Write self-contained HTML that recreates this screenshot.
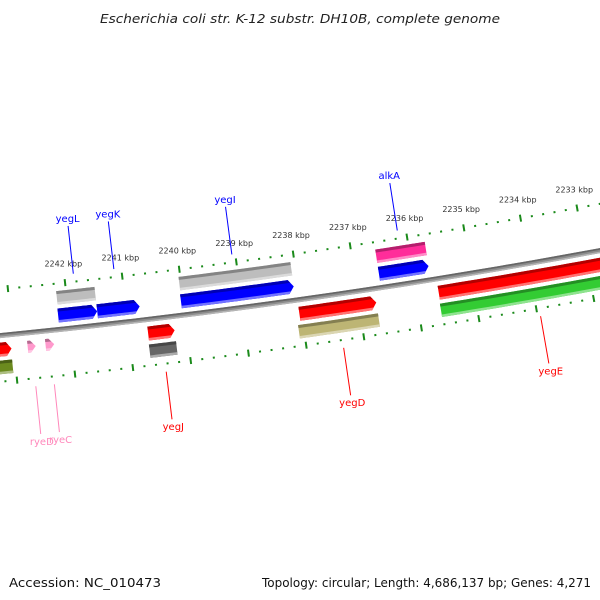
<!DOCTYPE html>
<html><head><meta charset="utf-8"><style>
html,body{margin:0;padding:0;background:#fff}
svg{display:block}
text{font-family:"DejaVu Sans","Liberation Sans",sans-serif}
</style></head><body>
<svg id="map" width="600" height="600" viewBox="0 0 600 600" xmlns="http://www.w3.org/2000/svg">
<rect x="0" y="0" width="600" height="600" fill="#fff"/>
<text x="300" y="23" text-anchor="middle" font-size="12" font-style="italic" fill="#222" textLength="400" lengthAdjust="spacingAndGlyphs">Escherichia coli str. K-12 substr. DH10B, complete genome</text>
<g id="plot"></g>
<text x="9" y="587" font-size="12" fill="#111" textLength="152" lengthAdjust="spacingAndGlyphs">Accession: NC_010473</text>
<text x="591" y="587" font-size="12" fill="#111" text-anchor="end" textLength="329" lengthAdjust="spacingAndGlyphs">Topology: circular; Length: 4,686,137 bp; Genes: 4,271</text>
</svg>
<script>
// ---- data (kbp) ----
const featNames  = ["left-red","left-olive","ryeD","ryeC","yegL","yegL-gray","yegK","yegJ","yegJ-gray","yegI","yegI-gray","yegD","yegD-khaki","alkA","alkA-pink","yegE","yegE-green"];
const featStart  = [2243.6,2243.6,2242.76,2242.45,2242.18,2242.17,2241.50,2240.67,2240.68,2240.04,2240.03,2238.04,2238.09,2236.58,2236.58,2235.61,2235.62];
const featEnd    = [2243.04,2243.05,2242.62,2242.30,2241.50,2241.50,2240.76,2240.21,2240.21,2238.07,2238.07,2236.70,2236.70,2235.71,2235.71,2232.0,2232.0];
const featTrack  = [1,2,1,1,-1,-2,-1,1,2,-1,-2,1,2,-1,-2,1,2];
const featArrow  = [1,0,1,1,1,0,1,1,0,1,0,1,0,1,0,1,0];
const featColor  = ["#ff0000","#6b8a1e","#ff99cc","#ff99cc","#0000ff","#bdbdbd","#0000ff","#ff0000","#666666","#0000ff","#bdbdbd","#ff0000","#bdb574","#0000ff","#ff2d9a","#ff0000","#33cc33"];
const labelNames = ["yegL","yegK","yegI","alkA","ryeD","ryeC","yegJ","yegD","yegE"];
const labelKbp   = [2241.84,2241.13,2239.06,2236.15,2242.69,2242.37,2240.44,2237.37,2233.95];
const labelSide  = [-1,-1,-1,-1,1,1,1,1,1];
const labelColor = ["#0000ff","#0000ff","#0000ff","#0000ff","#ff88bb","#ff88bb","#ff0000","#ff0000","#ff0000"];
const tickLabels = [2242,2241,2240,2239,2238,2237,2236,2235,2234,2233];
const tickFrom = 2244, tickTo = 2232, tickStep = 0.2;

// ---- geometry ----
const CX=-700, CY=-6767, R0=7137, PHI0=0.1081, K=0.00811;
function phi(kbp){return PHI0+(2242-kbp)*K;}
function pt(kbp,d){const a=phi(kbp),r=R0+d;return [CX+r*Math.sin(a),CY+r*Math.cos(a)];}
function band(a,b,d1,d2){
  const n=24,P=[];
  for(let i=0;i<=n;i++){P.push(pt(a+(b-a)*i/n,d1));}
  for(let i=n;i>=0;i--){P.push(pt(a+(b-a)*i/n,d2));}
  return P;
}
function arrowShape(a,b,d1,d2,arrow){
  if(!arrow) return band(a,b,d1,d2);
  const head=0.09*Math.sign(b-a);
  let bb=b-head; if((bb-a)*(b-a)<0) bb=a;
  const n=20,P=[];
  for(let i=0;i<=n;i++){P.push(pt(a+(bb-a)*i/n,d1));}
  P.push(pt(b,(d1+d2)/2));
  for(let i=n;i>=0;i--){P.push(pt(a+(bb-a)*i/n,d2));}
  return P;
}
function toPath(P){return "M"+P.map(p=>p[0].toFixed(2)+","+p[1].toFixed(2)).join("L")+"Z";}
const NS="http://www.w3.org/2000/svg";
const plot=document.getElementById("plot");
function mk(tag,attrs,parent){const e=document.createElementNS(NS,tag);for(const k in attrs)e.setAttribute(k,attrs[k]);(parent||plot).appendChild(e);return e;}
function shade(hex,f){const n=parseInt(hex.slice(1),16);let r=n>>16,g=(n>>8)&255,b=n&255;
  if(f<1){r*=f;g*=f;b*=f;}else{r+= (255-r)*(f-1);g+=(255-g)*(f-1);b+=(255-b)*(f-1);}
  return "rgb("+Math.round(r)+","+Math.round(g)+","+Math.round(b)+")";}
const defs=mk("defs",{});

// backbone
const bb=mk("path",{d:toPath(band(2245,2231,-2.5,2.5)),fill:"#8c8c8c"});


const bbt=mk("path",{d:toPath(band(2245,2231,-2.5,-0.8)),fill:"#666"});


const bbl=mk("path",{d:toPath(band(2245,2231,1,2.5)),fill:"#b5b5b5"});



// ticks
[-46,46].forEach(function(dc,row){
  const steps=Math.round((tickFrom-tickTo)/tickStep);
  for(let i=0;i<=steps;i++){
    const k=tickFrom-i*tickStep;
    const major=Math.abs(k-Math.round(k))<1e-6;
    const half=major?3.5:1;
    const a=pt(k,dc-half),b=pt(k,dc+half);
    const t=mk("line",{x1:a[0],y1:a[1],x2:b[0],y2:b[1],stroke:"#1a8a1a","stroke-width":2});
    
    
  }
});
tickLabels.forEach(function(k){
  const p=pt(k,-62);
  const t=mk("text",{x:p[0],y:p[1],"text-anchor":"middle","font-size":"8",fill:"#333"});
  t.textContent=k+" kbp";
  
  
});

// features
featNames.forEach(function(nm,i){
  const tr=featTrack[i];
  let d1,d2;
  if(tr===-1){d1=-21;d2=-7;}else if(tr===-2){d1=-38.5;d2=-25;}
  else if(tr===1){d1=7;d2=21;}else{d1=25;d2=38.5;}
  const small=(nm==="ryeD"||nm==="ryeC");
  if(small){d1=8;d2=20;}
  const P=arrowShape(featStart[i],featEnd[i],d1,d2,featArrow[i]);
  const g=mk("g",{});
  
  
  const cid="clip"+i;
  const cp=mk("clipPath",{id:cid},defs);
  mk("path",{d:toPath(P)},cp);
  const col=featColor[i];
  const body=mk("path",{d:toPath(P),fill:col},g);
  
  
  const lo=Math.min(featStart[i],featEnd[i])-0.2, hi=Math.max(featStart[i],featEnd[i])+0.2;
  const top=mk("path",{d:toPath(band(lo,hi,d1-1,d1+3)),fill:shade(col,0.7),"clip-path":"url(#"+cid+")"},g);
  
  
  const bot=mk("path",{d:toPath(band(lo,hi,d2-2.5,d2+1)),fill:shade(col,1.45),"clip-path":"url(#"+cid+")"},g);
  
  
});

// gene labels
labelNames.forEach(function(nm,i){
  const s=labelSide[i];
  const a=pt(labelKbp[i],s*54), b=pt(labelKbp[i],s*102);
  const l=mk("line",{x1:a[0],y1:a[1],x2:b[0],y2:b[1],stroke:labelColor[i],"stroke-width":1});
  
  
  const tp=pt(labelKbp[i],s<0?-106:113);
  const t=mk("text",{x:tp[0],y:tp[1],"text-anchor":"middle","font-size":"10",fill:labelColor[i]});
  t.textContent=nm;
  
  
});
</script>
</body></html>
